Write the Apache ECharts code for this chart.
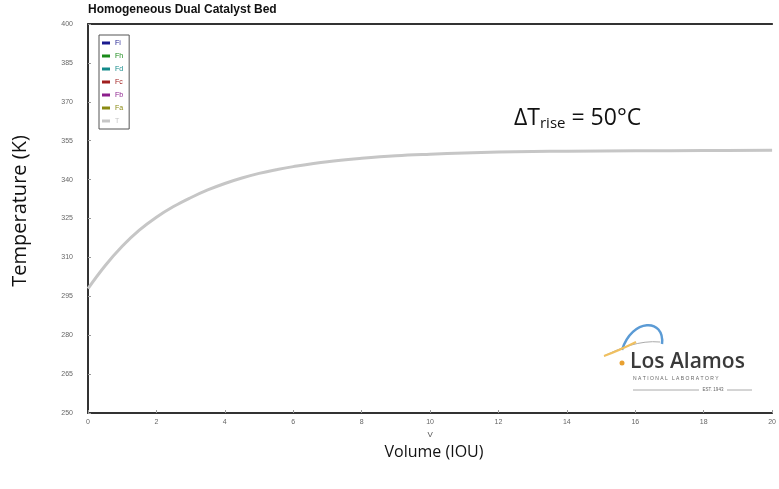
<!DOCTYPE html>
<html>
<head>
<meta charset="utf-8">
<script src="https://cdn.jsdelivr.net/npm/echarts@6/dist/echarts.min.js"></script>
<style>
  html, body { margin: 0; padding: 0; background: #fff; }
  #chart { width: 779px; height: 489px; }
</style>
</head>
<body>
<div id="chart"></div>
<script>
// values
var volume = [0, 0.5, 1, 1.5, 2, 2.5, 3, 3.5, 4, 4.5, 5, 5.5, 6, 7, 8, 9, 10, 11, 12, 13, 14, 16, 18, 20];
var temperature = [298, 306.8, 314.3, 320.5, 325.5, 329.6, 333, 336, 338.5, 340.6, 342.4, 343.8, 345, 346.9, 348.2, 349.2, 349.8, 350.25, 350.6, 350.8, 350.95, 351.1, 351.2, 351.3];
var legendNames = ["Fi", "Fh", "Fd", "Fc", "Fb", "Fa", "T"];
var legendColors = ["#1b1b8f", "#198a19", "#138a8a", "#a01e1e", "#8c1f8c", "#8a8a12", "#c6c6c6"];
var yTicks = { min: 250, max: 400, step: 15 };
var xTicks = { min: 0, max: 20, step: 2 };

var myChart = echarts.init(document.getElementById("chart"));

var seriesList = legendNames.map(function (name, i) {
  var pts = [];
  if (name === "T") {
    pts = volume.map(function (v, k) { return [v, temperature[k]]; });
  }
  return {
    name: name,
    type: "line",
    data: pts,
    showSymbol: false,
    smooth: 0.4,
    color: legendColors[i],
    lineStyle: { width: 3, color: legendColors[i] },
    xAxisIndex: 0,
    yAxisIndex: 0,
  };
});

var option = {
  animation: false,
  grid: { left: 88, top: 24, right: 2, bottom: 76, containLabel: false },
  legend: {
    orient: "vertical",
    left: 99,
    top: 35,
    padding: [3, 6, 3, 3],
    borderColor: "#555",
    borderWidth: 1,
    itemWidth: 8,
    itemHeight: 3,
    itemGap: 3,
    icon: "rect",
    textStyle: { fontSize: 7, lineHeight: 10, fontFamily: "Liberation Sans" },
    data: legendNames.map(function (n, i) {
      return { name: n, textStyle: { color: legendColors[i] } };
    }),
  },
  xAxis: [
    {
      type: "value",
      min: xTicks.min,
      max: xTicks.max,
      interval: xTicks.step,
      name: "V",
      nameLocation: "middle",
      nameGap: 17,
      nameTextStyle: { fontSize: 8, color: "#555", fontFamily: "Liberation Sans" },
      axisLine: { show: true, lineStyle: { color: "#333", width: 2 } },
      axisTick: { show: true, inside: true, length: 3, lineStyle: { color: "#999" } },
      axisLabel: { fontSize: 7, color: "#666", margin: 6, fontFamily: "Liberation Sans" },
      splitLine: { show: false },
    },
    {
      type: "value",
      position: "top",
      min: xTicks.min,
      max: xTicks.max,
      axisLine: { show: true, lineStyle: { color: "#333", width: 2 } },
      axisTick: { show: false },
      axisLabel: { show: false },
      splitLine: { show: false },
    },
  ],
  yAxis: {
    type: "value",
    min: yTicks.min,
    max: yTicks.max,
    interval: yTicks.step,
    axisLine: { show: true, lineStyle: { color: "#333", width: 2 } },
    axisTick: { show: true, inside: true, length: 3, lineStyle: { color: "#999" } },
    axisLabel: { fontSize: 7, color: "#666", margin: 15, fontFamily: "Liberation Sans" },
    splitLine: { show: false },
  },
  graphic: [
    {
      type: "text",
      left: 88,
      top: 4,
      style: {
        text: "Homogeneous Dual Catalyst Bed",
        font: "bold 12px Liberation Sans",
        fill: "#111",
      },
    },
    {
      type: "text",
      x: 20,
      y: 211,
      rotation: Math.PI / 2,
      style: {
        text: "Temperature (K)",
        font: "20px Open Sans",
        fill: "#111",
        align: "center",
        verticalAlign: "middle",
      },
    },
    {
      type: "text",
      x: 434,
      y: 452,
      style: {
        text: "Volume (IOU)",
        font: "16px Open Sans",
        fill: "#111",
        align: "center",
        verticalAlign: "middle",
      },
    },
    {
      type: "text",
      x: 514,
      y: 118,
      style: {
        text: "{a|ΔT}{s|rise}{a| = 50°C}",
        verticalAlign: "middle",
        rich: {
          a: { font: "23px Open Sans", fill: "#111" },
          s: { font: "15px Open Sans", fill: "#111", padding: [11, 0, 0, 0] },
        },
      },
    },
    // Los Alamos logo, roughly
    {
      type: "bezierCurve",
      shape: { x1: 622, y1: 350, x2: 662, y2: 344, cpx1: 632, cpy1: 318, cpx2: 665, cpy2: 318 },
      style: { stroke: "#5b9bd5", lineWidth: 2.5, fill: null },
    },
    {
      type: "bezierCurve",
      shape: { x1: 604, y1: 356, x2: 660, y2: 342, cpx1: 620, cpy1: 348, cpx2: 640, cpy2: 340 },
      style: { stroke: "#aaa", lineWidth: 1, fill: null },
    },
    {
      type: "bezierCurve",
      shape: { x1: 604, y1: 356, x2: 636, y2: 342, cpx1: 615, cpy1: 352, cpx2: 628, cpy2: 346 },
      style: { stroke: "#f0c060", lineWidth: 2, fill: null },
    },
    {
      type: "circle",
      shape: { cx: 622, cy: 363, r: 2.5 },
      style: { fill: "#e8a030" },
    },
    {
      type: "text",
      x: 630,
      y: 362,
      style: {
        text: "Los Alamos",
        font: "600 21px Open Sans",
        fill: "#3a3a3a",
        verticalAlign: "middle",
      },
    },
    {
      type: "text",
      x: 633,
      y: 379,
      style: {
        text: "N A T I O N A L   L A B O R A T O R Y",
        font: "5px Liberation Sans",
        fill: "#666",
        verticalAlign: "middle",
      },
    },
    {
      type: "text",
      x: 713,
      y: 390,
      style: {
        text: "EST. 1943",
        font: "4.5px Liberation Sans",
        fill: "#666",
        align: "center",
        verticalAlign: "middle",
      },
    },
    {
      type: "line",
      shape: { x1: 633, y1: 390, x2: 699, y2: 390 },
      style: { stroke: "#aaa", lineWidth: 1 },
    },
    {
      type: "line",
      shape: { x1: 727, y1: 390, x2: 752, y2: 390 },
      style: { stroke: "#aaa", lineWidth: 1 },
    },
  ],
  series: seriesList,
};

myChart.setOption(option);
</script>
</body>
</html>
